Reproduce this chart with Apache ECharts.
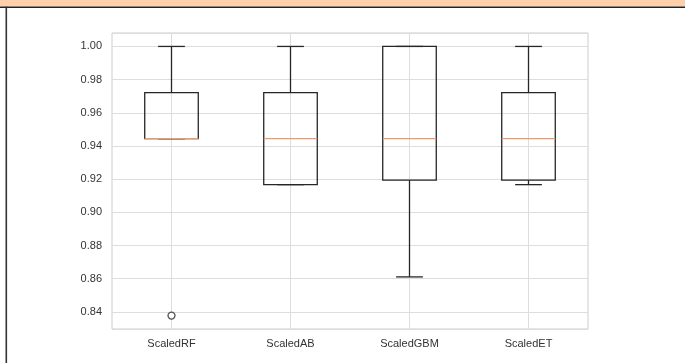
<!DOCTYPE html>
<html>
<head>
<meta charset="utf-8">
<script src="https://cdn.jsdelivr.net/npm/echarts@6/dist/echarts.min.js"></script>
<style>
html,body{margin:0;padding:0;background:#fff;}
#chart{width:685px;height:363px;}
</style>
</head>
<body>
<div id="chart"></div>
<script>
const categories = ['ScaledRF', 'ScaledAB', 'ScaledGBM', 'ScaledET'];
const whiskerLow = [0.9444, 0.9167, 0.8611, 0.9167];
const q1 = [0.9444, 0.9167, 0.9194, 0.9194];
const median = [0.9444, 0.9444, 0.9444, 0.9444];
const q3 = [0.9722, 0.9722, 1.0, 0.9722];
const whiskerHigh = [1.0, 1.0, 1.0, 1.0];
const outliers = [[0, 0.8378]];

const boxData = categories.map((c, i) => [i, whiskerLow[i], q1[i], median[i], q3[i], whiskerHigh[i]]);

const chart = echarts.init(document.getElementById('chart'), null, {renderer: 'canvas'});

function renderBox(params, api) {
  const idx = api.value(0);
  const bw = api.size([1, 0])[0] * 0.45;
  const half = bw / 2;
  const cap = bw / 4;
  const pLow = api.coord([idx, api.value(1)]);
  const pQ1 = api.coord([idx, api.value(2)]);
  const pMed = api.coord([idx, api.value(3)]);
  const pQ3 = api.coord([idx, api.value(4)]);
  const pHigh = api.coord([idx, api.value(5)]);
  const x = pQ1[0];
  const lineStyle = {stroke: '#262626', lineWidth: 1.3, fill: null};
  return {
    type: 'group',
    children: [
      {type: 'line', shape: {x1: x, y1: pQ1[1], x2: x, y2: pLow[1]}, style: lineStyle},
      {type: 'line', shape: {x1: x, y1: pQ3[1], x2: x, y2: pHigh[1]}, style: lineStyle},
      {type: 'line', shape: {x1: x - cap, y1: pLow[1], x2: x + cap, y2: pLow[1]}, style: lineStyle},
      {type: 'line', shape: {x1: x - cap, y1: pHigh[1], x2: x + cap, y2: pHigh[1]}, style: lineStyle},
      {type: 'rect', shape: {x: x - half, y: pQ3[1], width: bw, height: pQ1[1] - pQ3[1]}, style: lineStyle},
      {type: 'line', shape: {x1: x - half, y1: pMed[1], x2: x + half, y2: pMed[1]}, style: {stroke: '#ea9a6c', lineWidth: 1.3}}
    ]
  };
}

const option = {
  animation: false,
  backgroundColor: '#ffffff',
  graphic: [
    {type: 'rect', left: 0, top: 0, shape: {width: 685, height: 6.5}, style: {fill: '#fdcfab'}, z: 100},
    {type: 'rect', left: 0, top: 6.5, shape: {width: 685, height: 1.6}, style: {fill: '#222222'}, z: 100},
    {type: 'rect', left: 5.5, top: 6.5, shape: {width: 1.6, height: 360}, style: {fill: '#333333'}, z: 100}
  ],
  grid: {
    left: 112, right: 97, top: 33, bottom: 34,
    show: true, borderColor: '#cccccc', borderWidth: 1, backgroundColor: 'transparent'
  },
  xAxis: {
    type: 'category',
    data: categories,
    boundaryGap: true,
    axisLine: {show: false},
    axisTick: {show: false},
    splitLine: {show: true, alignWithLabel: true, lineStyle: {color: '#dddddd', width: 1}},
    axisLabel: {color: '#333333', fontSize: 11, fontFamily: 'Liberation Sans, Arial, sans-serif', margin: 9}
  },
  yAxis: {
    type: 'value',
    min: 0.8297,
    max: 1.0081,
    splitNumber: 8,
    axisLine: {show: false},
    axisTick: {show: false},
    splitLine: {show: true, lineStyle: {color: '#dddddd', width: 1}},
    axisLabel: {
      color: '#333333', fontSize: 11, fontFamily: 'Liberation Sans, Arial, sans-serif', margin: 10,
      showMinLabel: false, showMaxLabel: false,
      formatter: v => v.toFixed(2)
    }
  },
  series: [
    {
      type: 'custom',
      renderItem: renderBox,
      encode: {x: 0, y: [1, 2, 3, 4, 5]},
      data: boxData,
      z: 3
    },
    {
      type: 'scatter',
      data: outliers,
      symbol: 'circle',
      symbolSize: 7,
      itemStyle: {color: '#ffffff', borderColor: '#262626', borderWidth: 1.3},
      z: 4
    }
  ]
};
chart.setOption(option);
</script>
</body>
</html>
